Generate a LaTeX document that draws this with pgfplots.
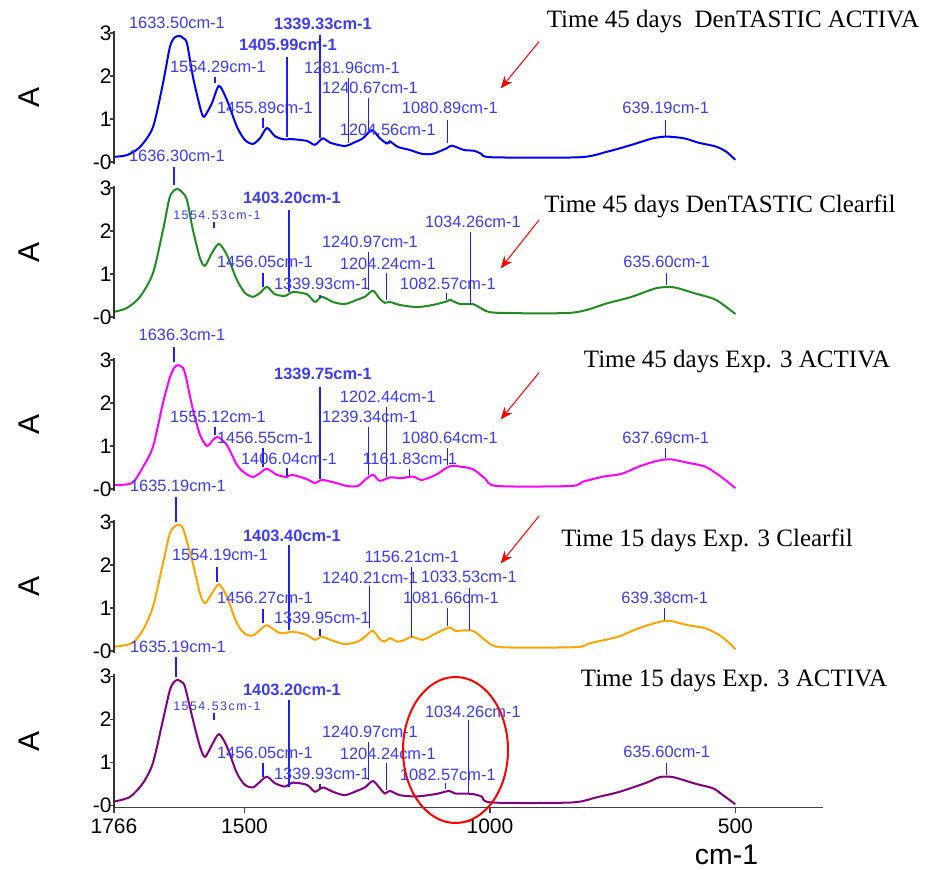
\documentclass[border=0pt]{standalone}
\usepackage{fontspec}
\setmainfont{Liberation Sans}
\newfontfamily\seriffont{Liberation Serif}
\newfontfamily\spacedfont[LetterSpace=12]{Liberation Sans}
\usepackage{pgfplots}
\pgfplotsset{compat=1.18}
\usetikzlibrary{arrows.meta}
\definecolor{labblue}{RGB}{60,60,255}
\definecolor{lineblue}{RGB}{30,30,255}
\definecolor{cA}{RGB}{0,0,255}
\definecolor{cB}{RGB}{34,139,34}
\definecolor{cC}{RGB}{255,0,255}
\definecolor{cD}{RGB}{255,165,0}
\definecolor{cE}{RGB}{128,0,128}
\tikzset{axc/.style={draw=black!75, line width=0.75pt}}
\newcommand{\lab}[4][]{\node[text=labblue,inner sep=0pt,font=\fontsize{8.2}{9}\selectfont#1] at (axis cs:#2,#3) {#4};}
\newcommand{\tk}[3]{\draw[lineblue,line width=0.6pt] (axis cs:#1,#2) -- (axis cs:#1,#3);}
\newcommand{\yax}{\draw[axc] (axis cs:1766,-0.05) -- (axis cs:1766,3.05)
  ([xshift=-2pt]axis cs:1766,0) -- (axis cs:1766,0)
  ([xshift=-2pt]axis cs:1766,1) -- (axis cs:1766,1)
  ([xshift=-2pt]axis cs:1766,2) -- (axis cs:1766,2)
  ([xshift=-2pt]axis cs:1766,3) -- (axis cs:1766,3);}
\pgfplotsset{panel/.style={
  scale only axis, width=354.35pt, height=66.65pt,
  x coord trafo/.code={\pgfmathparse{-(##1)}},
  x coord inv trafo/.code={\pgfmathparse{-(##1)}},
  xmin=1766, xmax=322,
  ymin=-0.05, ymax=3.05,
  axis lines*=left,
  axis line style={black!75, line width=0.75pt, -},
  ytick={0,1,2,3}, yticklabels={-0,1,2,3},
  every tick/.style={black!75, line width=0.75pt},
  tick align=outside, major tick length=2pt,
  yticklabel style={font=\fontsize{10.5}{11}\selectfont, inner xsep=0.5pt, xshift=1.5pt},
  clip=false, anchor=south west,
}, hidex/.style={xtick=\empty, x axis line style={draw=none}},
spec/.style={line width=1pt, smooth, tension=0.45, no marks}}
\begin{document}
\begin{tikzpicture}
\useasboundingbox (0,0) rectangle (463pt,-435pt);

% ---------- Panel 1 ----------
\begin{axis}[panel, hidex, at={(57pt,-82.075pt)}]
\addplot[spec, cA] coordinates {
(1766,0.12)(1739.5,0.16)(1713,0.35)(1686.6,0.81)(1666.2,1.83)(1652,2.68)(1642,2.90)(1631.6,2.93)(1625,2.88)(1617.3,2.76)(1605.1,1.98)(1590.8,1.28)(1582.7,1.05)(1566.4,1.37)(1552.1,1.77)(1535.9,1.44)(1515.5,0.82)(1499.2,0.51)(1482.9,0.42)(1468.6,0.55)(1454.4,0.79)(1438.1,0.60)(1421.8,0.53)(1401.4,0.53)(1372.9,0.49)(1356.6,0.40)(1340.3,0.55)(1326.1,0.45)(1295.5,0.37)(1279.2,0.44)(1258.9,0.55)(1240.5,0.74)(1224.2,0.55)(1210,0.43)(1203.9,0.48)(1187.6,0.35)(1163.2,0.28)(1138.7,0.19)(1116.3,0.19)(1087.8,0.32)(1077.6,0.38)(1053.2,0.28)(1031.8,0.26)(1017.5,0.19)(996.1,0.11)(817.9,0.11)(760.9,0.24)(711,0.40)(668.2,0.55)(639.7,0.59)(604.1,0.55)(575.6,0.45)(539.9,0.36)(518.6,0.24)(500,0.05)};
\yax
\lab{1637.7}{3.24}{1633.50cm-1}
\lab{1554.2}{2.22}{1554.29cm-1}\tk{1560.3}{1.98}{1.84}
\lab{1458.5}{1.25}{1455.89cm-1}\tk{1462.5}{1.02}{0.79}
\lab[\bfseries]{1411.6}{2.72}{1405.99cm-1}\tk{1413.7}{2.44}{0.58}
\lab[\bfseries]{1340.3}{3.21}{1339.33cm-1}\tk{1346.4}{2.95}{0.56}
\lab{1281.3}{2.19}{1281.96cm-1}\tk{1287.4}{1.95}{0.44}
\lab{1244.6}{1.72}{1240.67cm-1}\tk{1246.7}{1.49}{0.70}
\lab{1208}{0.74}{1204.56cm-1}\tk{1203.9}{0.50}{0.42}
\lab{1081.7}{1.26}{1080.89cm-1}\tk{1085.8}{0.98}{0.44}
\lab{641.8}{1.26}{639.19cm-1}\tk{641.8}{0.98}{0.60}
\end{axis}

% ---------- Panel 2 ----------
\begin{axis}[panel, hidex, at={(57pt,-159.575pt)}]
\addplot[spec, cB] coordinates {
(1766,0.12)(1739.5,0.21)(1713,0.47)(1686.6,1.02)(1666.2,2.02)(1652,2.80)(1637.7,2.98)(1627,2.9)(1617.3,2.72)(1605.1,2.02)(1590.8,1.37)(1580.7,1.19)(1566.4,1.49)(1552.1,1.70)(1535.9,1.44)(1515.5,0.86)(1499.2,0.56)(1482.9,0.47)(1468.6,0.56)(1454.4,0.70)(1438.1,0.53)(1417.7,0.49)(1401.4,0.58)(1372.9,0.53)(1356.6,0.35)(1342.4,0.47)(1320,0.35)(1295.5,0.30)(1271.1,0.40)(1254.8,0.47)(1238.5,0.61)(1224.2,0.42)(1214.1,0.33)(1203.9,0.35)(1183.5,0.28)(1148.9,0.23)(1116.3,0.28)(1085.8,0.37)(1081.7,0.40)(1060.3,0.30)(1034.8,0.30)(1017.5,0.20)(989,0.10)(832.2,0.10)(760.9,0.32)(711,0.47)(661.1,0.67)(625.5,0.69)(582.7,0.55)(539.9,0.40)(500,0.07)};
\yax
\lab{1637.7}{3.74}{1636.30cm-1}\tk{1643.8}{3.49}{3.07}
\lab[\spacedfont\fontsize{6.2}{7}\selectfont]{1556.2}{2.36}{1554.53cm-1}\tk{1562.3}{2.20}{2.07}
\lab[\bfseries]{1403.5}{2.77}{1403.20cm-1}\tk{1409.6}{2.49}{0.58}
\lab{1458.5}{1.28}{1456.05cm-1}\tk{1462.5}{1.02}{0.70}
\lab{1342.4}{0.77}{1339.93cm-1}\tk{1346.4}{0.51}{0.45}
\lab{1244.6}{1.74}{1240.97cm-1}\tk{1246.7}{1.51}{0.63}
\lab{1208}{1.23}{1204.24cm-1}\tk{1210}{1.02}{0.40}
\lab{1085.8}{0.78}{1082.57cm-1}\tk{1088.8}{0.55}{0.40}
\lab{1034.8}{2.22}{1034.26cm-1}\tk{1038.9}{1.98}{0.28}
\lab{639.7}{1.29}{635.60cm-1}\tk{639.7}{1.02}{0.74}
\end{axis}

% ---------- Panel 3 ----------
\begin{axis}[panel, hidex, at={(57pt,-245.575pt)}]
\addplot[spec, cC] coordinates {
(1766,0.09)(1729.3,0.14)(1707,0.51)(1686.6,0.98)(1666.2,2.0)(1652,2.6)(1643,2.82)(1635.7,2.88)(1628,2.84)(1621.4,2.70)(1605.1,1.84)(1590.8,1.26)(1576.6,1.0)(1564.4,1.14)(1554.2,1.21)(1535.9,1.02)(1515.5,0.56)(1499.2,0.37)(1482.9,0.28)(1468.6,0.37)(1454.4,0.47)(1434,0.33)(1413.7,0.28)(1403.5,0.33)(1372.9,0.23)(1356.6,0.14)(1342.4,0.21)(1320,0.16)(1291.5,0.07)(1269,0.07)(1254.8,0.21)(1238.5,0.33)(1224.2,0.19)(1202.9,0.27)(1181.5,0.25)(1157,0.29)(1138.7,0.21)(1110.2,0.33)(1081.7,0.53)(1060.3,0.52)(1034.8,0.46)(1010.4,0.25)(985.9,0.07)(835.2,0.07)(810.8,0.17)(768,0.29)(732.4,0.35)(696.7,0.52)(661.1,0.65)(632.6,0.69)(597,0.61)(561.4,0.52)(529.7,0.29)(500,0.02)};
\yax
\lab{1627.5}{3.58}{1636.3cm-1}\tk{1643.8}{3.31}{2.96}
\lab{1554.2}{1.68}{1555.12cm-1}\tk{1560.3}{1.45}{1.26}
\lab{1458.5}{1.18}{1456.55cm-1}\tk{1462.5}{0.95}{0.52}
\lab{1409.6}{0.71}{1406.04cm-1}\tk{1413.7}{0.48}{0.30}
\lab[\bfseries]{1340.3}{2.67}{1339.75cm-1}\tk{1346.4}{2.38}{0.23}
\lab{1208}{2.15}{1202.44cm-1}\tk{1210}{1.91}{0.29}
\lab{1244.6}{1.68}{1239.34cm-1}\tk{1246.7}{1.45}{0.33}
\lab{1163.2}{0.71}{1161.83cm-1}\tk{1163.2}{0.47}{0.30}
\lab{1081.7}{1.18}{1080.64cm-1}\tk{1085.8}{0.95}{0.56}
\lab{641.8}{1.18}{637.69cm-1}\tk{641.8}{0.95}{0.72}
\end{axis}

% ---------- Panel 4 ----------
\begin{axis}[panel, hidex, at={(57pt,-326.575pt)}]
\addplot[spec, cD] coordinates {
(1766,0.10)(1729.3,0.18)(1707,0.49)(1686.6,1.03)(1666.2,2.04)(1652,2.74)(1637.7,2.93)(1625.5,2.85)(1607.1,2.12)(1590.8,1.34)(1580.7,1.11)(1566.4,1.34)(1552.1,1.55)(1535.9,1.26)(1515.5,0.64)(1499.2,0.40)(1482.9,0.36)(1468.6,0.49)(1454.4,0.60)(1434,0.45)(1421.8,0.41)(1401.4,0.45)(1372.9,0.37)(1356.6,0.26)(1342.4,0.33)(1320,0.24)(1295.5,0.16)(1269,0.22)(1254.8,0.33)(1238.5,0.47)(1224.2,0.27)(1214.1,0.22)(1203.9,0.30)(1189.6,0.22)(1177.4,0.24)(1159.1,0.33)(1136.7,0.26)(1110.2,0.41)(1081.7,0.55)(1071.5,0.47)(1034.8,0.47)(1010.4,0.26)(978.2,0.09)(825,0.09)(796.5,0.18)(739.5,0.33)(696.7,0.53)(654,0.68)(632.6,0.70)(597,0.60)(561.4,0.53)(532.8,0.37)(511.4,0.18)(500,0.04)};
\yax
\lab{1635.7}{3.84}{1635.19cm-1}\tk{1639.7}{3.59}{3.0}
\lab{1550.1}{2.23}{1554.19cm-1}\tk{1556.2}{1.96}{1.61}
\lab[\bfseries]{1403.5}{2.68}{1403.40cm-1}\tk{1409.6}{2.47}{0.49}
\lab{1458.5}{1.23}{1456.27cm-1}\tk{1462.5}{0.97}{0.64}
\lab{1342.4}{0.76}{1339.95cm-1}\tk{1346.4}{0.50}{0.35}
\lab{1244.6}{1.71}{1240.21cm-1}\tk{1244.6}{1.50}{0.53}
\lab{1159.1}{2.19}{1156.21cm-1}\tk{1160.1}{1.96}{0.33}
\lab{1043}{1.73}{1033.53cm-1}\tk{1041}{1.46}{0.49}
\lab{1079.6}{1.23}{1081.66cm-1}\tk{1086.8}{0.99}{0.57}
\lab{643.8}{1.23}{639.38cm-1}\tk{643.8}{0.99}{0.72}
\end{axis}

% ---------- Panel 5 ----------
\begin{axis}[panel, at={(57pt,-403.825pt)},
  xtick={1766,1500,1000,500}, xticklabels={1766,1500,1000,500},
  xticklabel style={font=\fontsize{10.5}{11}\selectfont}]
\addplot[spec, cE] coordinates {
(1766,0.09)(1733.4,0.20)(1707,0.52)(1686.6,0.99)(1666.2,1.99)(1652,2.69)(1643,2.88)(1635.7,2.92)(1628,2.87)(1621.4,2.76)(1605.1,1.99)(1590.8,1.37)(1580.7,1.13)(1566.4,1.41)(1552.1,1.66)(1535.9,1.37)(1515.5,0.75)(1499.2,0.48)(1482.9,0.42)(1468.6,0.55)(1454.4,0.67)(1438.1,0.52)(1417.7,0.44)(1401.4,0.53)(1372.9,0.48)(1356.6,0.32)(1340.3,0.42)(1320,0.32)(1295.5,0.24)(1271.1,0.34)(1254.8,0.42)(1238.5,0.57)(1224.2,0.40)(1214.1,0.28)(1203.9,0.34)(1183.5,0.24)(1148.9,0.21)(1108.8,0.27)(1083.1,0.34)(1071.5,0.28)(1037.5,0.27)(1017.1,0.21)(996.7,0.07)(833.8,0.07)(782.9,0.19)(735.5,0.32)(681.1,0.53)(654,0.66)(626.9,0.66)(579.3,0.50)(545.4,0.40)(525.1,0.24)(500,0.03)};
\yax
\draw[axc] (axis cs:1766,-0.05) -- (axis cs:322,-0.05)
  (axis cs:1766,-0.05) -- ([yshift=-2.5pt]axis cs:1766,-0.05)
  (axis cs:1500,-0.05) -- ([yshift=-2.5pt]axis cs:1500,-0.05)
  (axis cs:1000,-0.05) -- ([yshift=-2.5pt]axis cs:1000,-0.05)
  (axis cs:500,-0.05) -- ([yshift=-2.5pt]axis cs:500,-0.05);
\lab{1635.7}{3.69}{1635.19cm-1}\tk{1639.7}{3.46}{3.0}
\lab[\spacedfont\fontsize{6.2}{7}\selectfont]{1556.2}{2.31}{1554.53cm-1}\tk{1562.3}{2.14}{1.99}
\lab[\bfseries]{1403.5}{2.69}{1403.20cm-1}\tk{1409.6}{2.45}{0.44}
\lab{1458.5}{1.23}{1456.05cm-1}\tk{1462.5}{0.98}{0.67}
\lab{1342.4}{0.73}{1339.93cm-1}\tk{1346.4}{0.50}{0.40}
\lab{1244.6}{1.72}{1240.97cm-1}\tk{1246.7}{1.48}{0.59}
\lab{1208}{1.20}{1204.24cm-1}\tk{1210}{0.98}{0.36}
\lab{1085.8}{0.71}{1082.57cm-1}\tk{1089.8}{0.53}{0.38}
\lab{1034.8}{2.17}{1034.26cm-1}\tk{1043}{1.98}{0.30}
\lab{639.7}{1.25}{635.60cm-1}\tk{639.7}{0.98}{0.70}
\node[font=\fontsize{14.2}{15}\selectfont, inner sep=0pt] at (axis cs:518,-1.15) {cm-1};
\end{axis}

% ---------- left axis lines (picture level, to be sure they show) ----------
\begin{scope}[draw=black!80, line width=0.8pt]
\draw (57pt,-82.075pt) -- (57pt,-15.425pt);
\draw (57pt,-159.575pt) -- (57pt,-92.925pt);
\draw (57pt,-245.575pt) -- (57pt,-178.925pt);
\draw (57pt,-326.575pt) -- (57pt,-259.925pt);
\draw (57pt,-403.825pt) -- (57pt,-337.175pt);
\end{scope}

% ---------- y labels ----------
\foreach \yy in {-48.75,-126.25,-212.25,-293.25,-370.5}
  \node[rotate=90, font=\fontsize{15}{16}\selectfont, inner sep=0pt] at (14.5pt,\yy pt) {A};

% ---------- titles ----------
\begin{scope}[every node/.style={font=\seriffont\fontsize{12.5}{13}\selectfont, inner sep=0pt}]
\node at (366.5pt,-10.85pt) {Time 45 days\ \ DenTASTIC ACTIVA};
\node at (360pt,-103.35pt) {Time 45 days DenTASTIC Clearfil};
\node at (368.5pt,-180.85pt) {Time 45 days Exp. 3 ACTIVA};
\node at (353.5pt,-270pt) {Time 15 days Exp. 3 Clearfil};
\node at (367pt,-340.5pt) {Time 15 days Exp. 3 ACTIVA};
\end{scope}

% ---------- arrows ----------
\begin{scope}[red, line width=0.5pt, -{Stealth[length=6pt,width=5pt]}]
\draw (269.5pt,-20.85pt) -- (250.4pt,-44.15pt);
\draw (269.5pt,-110pt) -- (250.4pt,-134.15pt);
\draw (269.5pt,-186.35pt) -- (250.4pt,-209.65pt);
\draw (269.5pt,-258pt) -- (250.4pt,-281.65pt);
\end{scope}
\draw[red, line width=1pt] (227.75pt,-375pt) ellipse [x radius=26.25pt, y radius=36.5pt];
\end{tikzpicture}
\end{document}
